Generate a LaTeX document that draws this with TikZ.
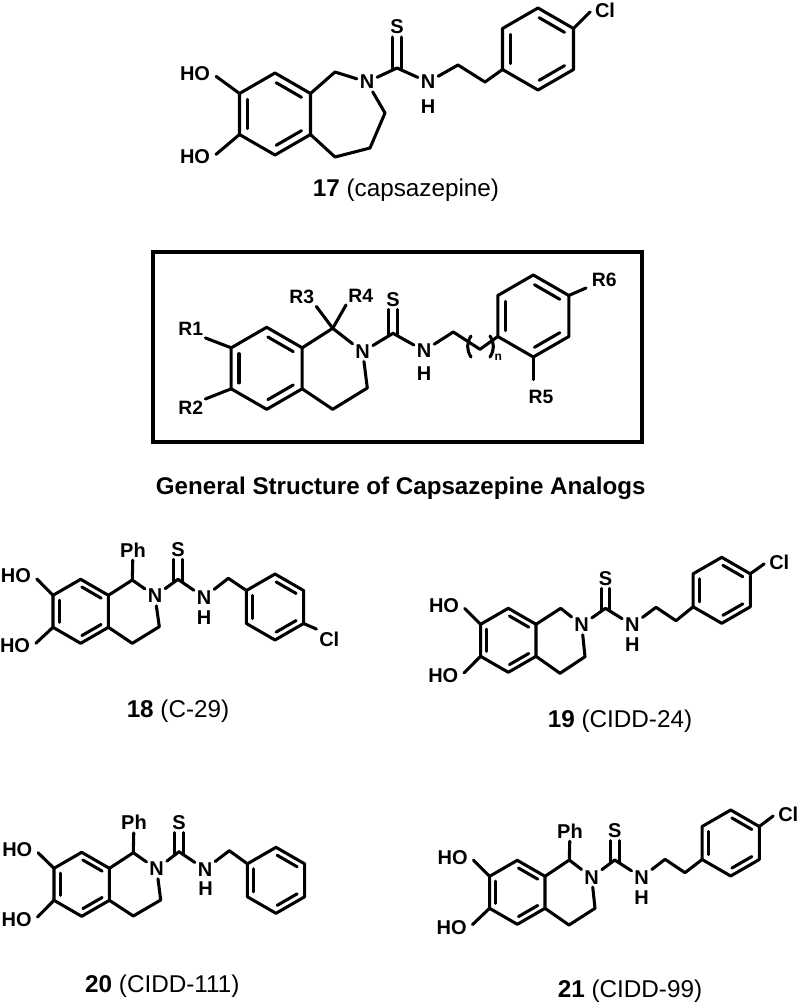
\documentclass[tikz,border=0pt]{standalone}
\usepackage{fontspec}
\setmainfont{Liberation Sans}
\usetikzlibrary{calc}
\tikzset{
	bond/.style={line width=2.3pt,line cap=round,line join=round},
	atom/.style={font=\fontsize{15}{15}\selectfont\bfseries,inner sep=2pt},
	rgroup/.style={font=\fontsize{14.5}{15}\selectfont\bfseries,inner sep=1.5pt},
	caption/.style={font=\fontsize{18.2}{19}\selectfont,inner sep=0pt}
}
% benzene ring: name, centre x, centre y, radius
\newcommand{\ringsix}[4]{
	\coordinate (#1c) at (#2,#3);
	\foreach \a/\i in {90/1,30/2,-30/3,-90/4,-150/5,150/6}
	\coordinate (#1\i) at ({#2+#4*cos(\a)},{#3-#4*sin(\a)});
	\draw[bond] (#11) -- (#12) -- (#13) -- (#14) -- (#15) -- (#16) -- cycle;
	\foreach \i/\j in {1/2,3/4,5/6}
	\draw[bond,shorten >=1pt,shorten <=1pt] ($(#1c)!0.78!(#1\i)$) -- ($(#1c)!0.78!(#1\j)$);
}
% C=S: carbon, sulfur
\newcommand{\thione}[2]{
	\draw[bond] ([xshift=-3.3pt,yshift=-1.5pt]#1) -- ([xshift=-3.3pt]#2.south);
	\draw[bond] ([xshift=3.3pt,yshift=-1.5pt]#1) -- ([xshift=3.3pt]#2.south);
}
\begin{document}
\begin{tikzpicture}[x=0.75pt,y=-0.75pt]
	\useasboundingbox (0,0) rectangle (800,1007);

	% 17 capsazepine
	\ringsix{capa}{275}{114}{41}
	\ringsix{capb}{538}{49}{41}
	\node[atom] (capho1) at (195,74) {HO};
	\node[atom] (capho2) at (195,157) {HO};
	\node[atom] (capn) at (367,82) {N};
	\node[atom] (caps) at (397,27) {S};
	\node[atom] (capnh) at (428,82) {N};
	\node[atom] (caph) at (428,107) {H};
	\node[atom] (capcl) at (605,10) {Cl};
	\coordinate (capc1) at (335,72);
	\coordinate (capc2) at (385,113);
	\coordinate (capc3) at (370,148);
	\coordinate (capc4) at (335,157);
	\coordinate (capcs) at (397,68);
	\coordinate (capc5) at (458,65);
	\coordinate (capc6) at (485,82);
	\draw[bond,shorten >=3pt] (capa6) -- (capho1.east);
	\draw[bond,shorten >=3pt] (capa5) -- (capho2.east);
	\draw[bond] (capa2) -- (capc1) -- (capn);
	\draw[bond] (capn) -- (capc2) -- (capc3) -- (capc4) -- (capa3);
	\draw[bond] (capn) -- (capcs) -- (capnh);
	\thione{capcs}{caps}
	\draw[bond] (capnh) -- (capc5) -- (capc6) -- (capb5);
	\draw[bond,shorten >=2pt] (capb2) -- (capcl.west);
	\node[caption] (capname) at (406,190) {\textbf{17} (capsazepine)};

	% general structure
	\draw[line width=3pt] (152.5,252) rectangle (641.5,441.5);
	\ringsix{gena}{266.7}{368.3}{41}
	\ringsix{genb}{533.3}{316}{41}
	\node[rgroup] (genr1) at (190.7,329) {R1};
	\node[rgroup] (genr2) at (190.7,408) {R2};
	\node[rgroup] (genr3) at (301.7,297.3) {R3};
	\node[rgroup] (genr4) at (360.7,296) {R4};
	\node[rgroup] (genr5) at (541,396.7) {R5};
	\node[rgroup] (genr6) at (604.3,280) {R6};
	\node[atom] (genn) at (362.7,351.7) {N};
	\node[atom] (gens) at (393,299.3) {S};
	\node[atom] (gennh) at (424,350.7) {N};
	\node[atom] (genh) at (424,373.3) {H};
	\node[font=\fontsize{9}{9}\selectfont\bfseries,inner sep=0pt] (genidx) at (498.3,357) {n};
	\coordinate (genc1) at (332.7,328.3);
	\coordinate (genc2) at (367.3,388);
	\coordinate (genc3) at (332.7,409.3);
	\coordinate (gencs) at (393,333.3);
	\coordinate (genc4) at (453.3,332);
	\coordinate (genc5) at (480,349.3);
	\draw[bond] (gena6) -- (genr1.south east);
	\draw[bond] (gena5) -- (genr2.north east);
	\draw[bond] (gena2) -- (genc1) -- (genn);
	\draw[bond] (genc1) -- (genr3.south east);
	\draw[bond] (genc1) -- (genr4.south west);
	\draw[bond] (genn) -- (genc2) -- (genc3) -- (gena3);
	\draw[bond] (genn) -- (gencs) -- (gennh);
	\thione{gencs}{gens}
	\draw[bond] (gennh) -- (genc4) -- (genc5) -- (genb5);
	\draw[bond,shorten >=6pt] (genb4) -- (genb4 |- genr5.north);
	\draw[bond,shorten >=3pt] (genb2) -- (genr6);
	% brackets
	\draw[bond] (471,336) .. controls (466.5,343) and (466.5,350) .. (471,357);
	\draw[bond] (490,336) .. controls (494.5,343) and (494.5,350) .. (490,357);
	\node[caption,font=\fontsize{18.1}{19}\selectfont\bfseries] (gentitle) at (400.7,488.3) {General Structure of Capsazepine Analogs};

	% 18 C-29
	\ringsix{onea}{80.7}{611.3}{32}
	\ringsix{oneb}{275}{607}{33}
	\node[atom] (oneho1) at (16,576) {HO};
	\node[atom] (oneho2) at (15,646) {HO};
	\node[atom] (oneph) at (133,550) {Ph};
	\node[atom] (onen) at (155,596) {N};
	\node[atom] (ones) at (178,549.3) {S};
	\node[atom] (onenh) at (204,597.3) {N};
	\node[atom] (oneh) at (204,617.3) {H};
	\node[atom] (onecl) at (329.3,639.3) {Cl};
	\coordinate (onec1) at (132.3,580);
	\coordinate (onec2) at (159.3,626.7);
	\coordinate (onec3) at (132.3,643.3);
	\coordinate (onecs) at (178,579.3);
	\coordinate (onec4) at (228.3,578.3);
	\draw[bond,shorten >=3pt] (onea6) -- (oneho1.east);
	\draw[bond,shorten >=3pt] (onea5) -- (oneho2.east);
	\draw[bond] (onea2) -- (onec1) -- (onen);
	\draw[bond] (onec1) -- (oneph);
	\draw[bond] (onen) -- (onec2) -- (onec3) -- (onea3);
	\draw[bond] (onen) -- (onecs) -- (onenh);
	\thione{onecs}{ones}
	\draw[bond] (onenh) -- (onec4) -- (oneb6);
	\draw[bond] (oneb3) -- (onecl.north west);
	\node[caption] (onename) at (178,711.7) {\textbf{18} (C-29)};

	% 19 CIDD-24
	\ringsix{twoa}{508.3}{640.3}{32}
	\ringsix{twob}{721.7}{590.3}{33}
	\node[atom] (twoho1) at (444,605.7) {HO};
	\node[atom] (twoho2) at (443.3,675.7) {HO};
	\node[atom] (twon) at (581.7,625) {N};
	\node[atom] (twos) at (605.5,578.3) {S};
	\node[atom] (twonh) at (632.3,625) {N};
	\node[atom] (twoh) at (632.3,645) {H};
	\node[atom] (twocl) at (779.3,562.3) {Cl};
	\coordinate (twoc1) at (560.7,608.3);
	\coordinate (twoc2) at (585,656.7);
	\coordinate (twoc3) at (560,673.3);
	\coordinate (twocs) at (605.5,608.3);
	\coordinate (twoc4) at (656,607.3);
	\coordinate (twoc5) at (676,620.7);
	\draw[bond,shorten >=3pt] (twoa6) -- (twoho1.east);
	\draw[bond,shorten >=3pt] (twoa5) -- (twoho2.east);
	\draw[bond] (twoa2) -- (twoc1) -- (twon);
	\draw[bond] (twon) -- (twoc2) -- (twoc3) -- (twoa3);
	\draw[bond] (twon) -- (twocs) -- (twonh);
	\thione{twocs}{twos}
	\draw[bond] (twonh) -- (twoc4) -- (twoc5) -- (twob5);
	\draw[bond,shorten >=2pt] (twob2) -- (twocl.west);
	\node[caption] (twoname) at (620,721.7) {\textbf{19} (CIDD-24)};

	% 20 CIDD-111
	\ringsix{thra}{81.7}{884.3}{32}
	\ringsix{thrb}{276}{880.3}{33}
	\node[atom] (thrho1) at (17.3,850) {HO};
	\node[atom] (thrho2) at (16.7,920) {HO};
	\node[atom] (thrph) at (134,822.7) {Ph};
	\node[atom] (thrn) at (156.7,869) {N};
	\node[atom] (thrs) at (179,822.7) {S};
	\node[atom] (thrnh) at (205,869.3) {N};
	\node[atom] (thrh) at (205.7,889) {H};
	\coordinate (thrc1) at (133.3,852.7);
	\coordinate (thrc2) at (160.7,900);
	\coordinate (thrc3) at (133.3,916);
	\coordinate (thrcs) at (179,851.7);
	\coordinate (thrc4) at (229.3,850.7);
	\draw[bond,shorten >=3pt] (thra6) -- (thrho1.east);
	\draw[bond,shorten >=3pt] (thra5) -- (thrho2.east);
	\draw[bond] (thra2) -- (thrc1) -- (thrn);
	\draw[bond] (thrc1) -- (thrph);
	\draw[bond] (thrn) -- (thrc2) -- (thrc3) -- (thra3);
	\draw[bond] (thrn) -- (thrcs) -- (thrnh);
	\thione{thrcs}{thrs}
	\draw[bond] (thrnh) -- (thrc4) -- (thrb6);
	\node[caption] (thrname) at (162.3,986.7) {\textbf{20} (CIDD-111)};

	% 21 CIDD-99
	\ringsix{foua}{517.3}{892.3}{32}
	\ringsix{foub}{730.7}{843}{33}
	\node[atom] (fouho1) at (452.7,857.3) {HO};
	\node[atom] (fouho2) at (451.7,927.3) {HO};
	\node[atom] (fouph) at (570,831) {Ph};
	\node[atom] (foun) at (591.7,877.3) {N};
	\node[atom] (fous) at (614.7,830.7) {S};
	\node[atom] (founh) at (641.7,877.3) {N};
	\node[atom] (fouh) at (641.7,897.3) {H};
	\node[atom] (foucl) at (788.3,814.3) {Cl};
	\coordinate (fouc1) at (569.3,860);
	\coordinate (fouc2) at (595,908.3);
	\coordinate (fouc3) at (569,925);
	\coordinate (foucs) at (614.7,860);
	\coordinate (fouc4) at (665,859.3);
	\coordinate (fouc5) at (685,872.7);
	\draw[bond,shorten >=3pt] (foua6) -- (fouho1.east);
	\draw[bond,shorten >=3pt] (foua5) -- (fouho2.east);
	\draw[bond] (foua2) -- (fouc1) -- (foun);
	\draw[bond] (fouc1) -- (fouph);
	\draw[bond] (foun) -- (fouc2) -- (fouc3) -- (foua3);
	\draw[bond] (foun) -- (foucs) -- (founh);
	\thione{foucs}{fous}
	\draw[bond] (founh) -- (fouc4) -- (fouc5) -- (foub5);
	\draw[bond,shorten >=2pt] (foub2) -- (foucl.west);
	\node[caption] (founame) at (630,991.7) {\textbf{21} (CIDD-99)};
\end{tikzpicture}
\end{document}
